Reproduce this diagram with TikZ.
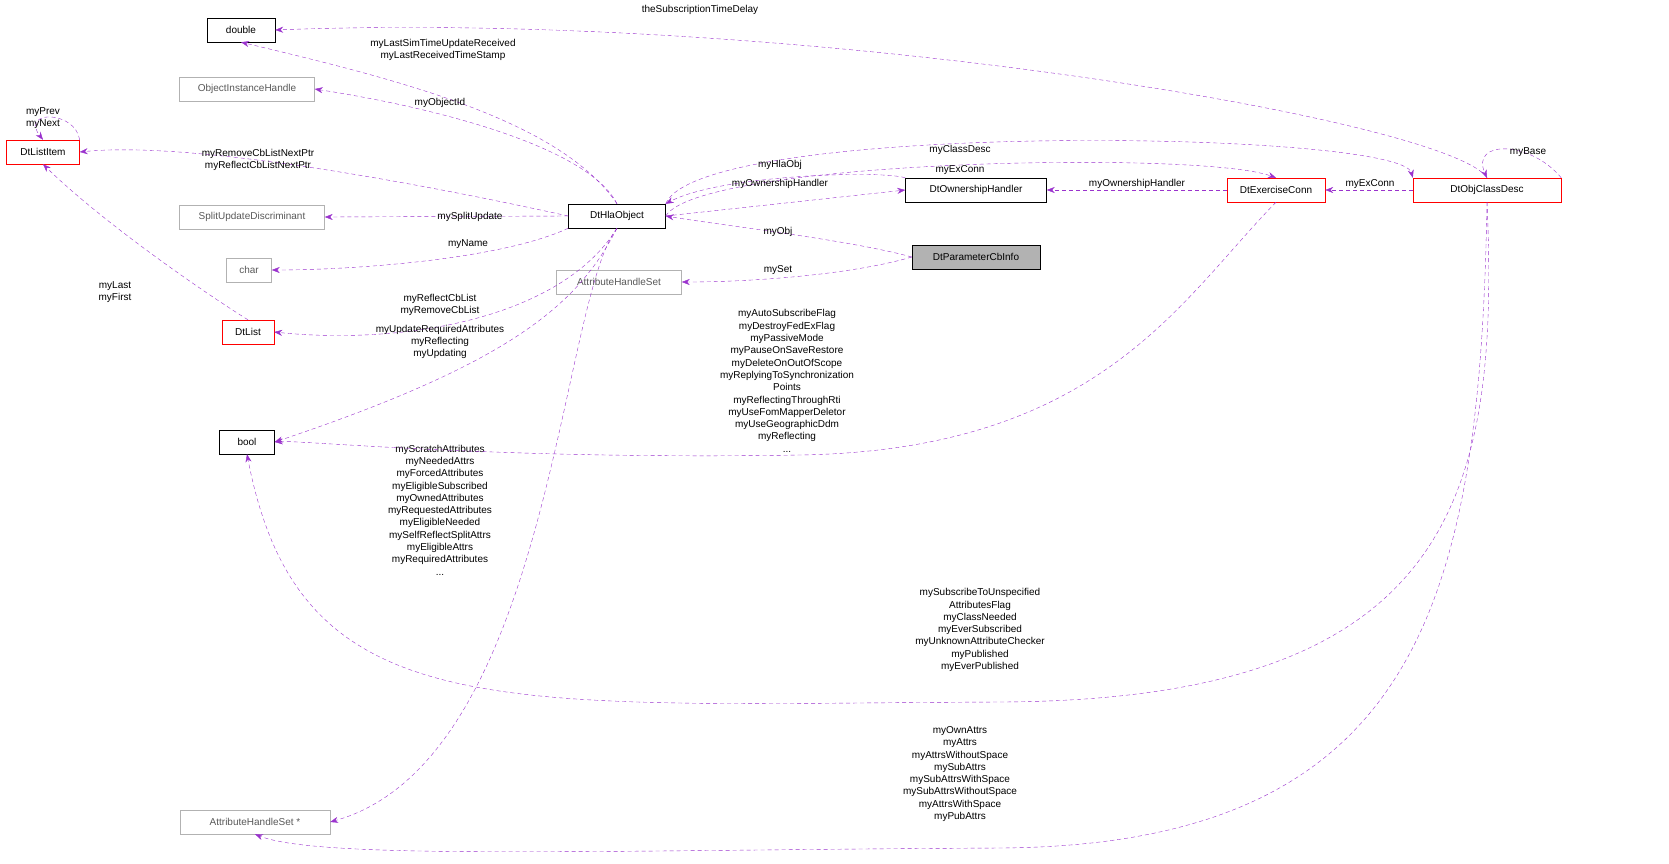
\documentclass[tikz,border=0pt]{standalone}
\usepackage{fontspec}
\setmainfont{Liberation Sans}
\usetikzlibrary{arrows.meta}
\definecolor{ep}{HTML}{9A32CD}
\begin{document}
\begin{tikzpicture}[x=1pt,y=-1pt,font=\fontsize{10}{12.3}\selectfont,
 box/.style={draw,inner sep=0pt,minimum height=24pt,fill=white},
 bk/.style={box,draw=black},
 gr/.style={box,draw=gray!60,text=gray!70!black},
 rd/.style={box,draw=red},
 e/.style={draw=ep,dashed,dash pattern=on 4pt off 3pt,-{Stealth[length=8pt,width=6pt]}},
 lb/.style={align=center,inner sep=0pt}]
\node[bk,minimum width=68pt] (dbl) at (241,30) {double};
\node[gr,minimum width=135pt] (oih) at (247,89) {ObjectInstanceHandle};
\node[rd,minimum width=73pt] (li) at (43,152) {DtListItem};
\node[gr,minimum width=145pt] (sud) at (252,217) {SplitUpdateDiscriminant};
\node[gr,minimum width=45pt] (chr) at (249,270) {char};
\node[rd,minimum width=52pt] (lst) at (248,332) {DtList};
\node[bk,minimum width=55pt] (bool) at (247,442) {bool};
\node[gr,minimum width=150pt] (ahsp) at (255,822) {AttributeHandleSet *};
\node[bk,minimum width=97pt] (hla) at (617,216) {DtHlaObject};
\node[gr,minimum width=125pt] (ahs) at (619,282) {AttributeHandleSet};
\node[box,fill=gray!60,minimum width=128pt] (pci) at (976,257) {DtParameterCbInfo};
\node[bk,minimum width=141pt] (own) at (976,190) {DtOwnershipHandler};
\node[rd,minimum width=98pt] (ex) at (1276,190) {DtExerciseConn};
\node[rd,minimum width=148pt] (ocd) at (1487,190) {DtObjClassDesc};

\draw[e] (ocd.north) .. controls (1450,120) and (800,10) .. (dbl.east);
\node[lb] (l0) at (700,10) {theSubscriptionTimeDelay};
\draw[e] (hla.north) .. controls (560,120) and (400,80) .. (dbl.south);
\node[lb] (l1) at (443,50) {myLastSimTimeUpdateReceived\\myLastReceivedTimeStamp};
\draw[e] (hla.north) .. controls (590,150) and (450,110) .. (oih.east);
\node[lb] (l2) at (440,103) {myObjectId};
\draw[e] (hla.west) .. controls (450,190) and (200,140) .. (li.east);
\node[lb] (l3) at (258,160) {myRemoveCbListNextPtr\\myReflectCbListNextPtr};
\draw[e] (hla.west) -- (sud.east);
\node[lb] (l4) at (470,217) {mySplitUpdate};
\draw[e] (hla.south west) .. controls (500,260) and (350,270) .. (chr.east);
\node[lb] (l5) at (468,244) {myName};
\draw[e] (hla.south) .. controls (560,320) and (400,345) .. (lst.east);
\node[lb] (l6) at (440,305) {myReflectCbList\\myRemoveCbList};
\draw[e] (hla.south) .. controls (580,300) and (520,360) .. (bool.east);
\node[lb] (l7) at (440,342) {myUpdateRequiredAttributes\\myReflecting\\myUpdating};
\draw[e] (hla.south) .. controls (560,300) and (550,760) .. (ahsp.east);
\node[lb] (l8) at (440,510) {myScratchAttributes\\myNeededAttrs\\myForcedAttributes\\myEligibleSubscribed\\myOwnedAttributes\\myRequestedAttributes\\myEligibleNeeded\\mySelfReflectSplitAttrs\\myEligibleAttrs\\myRequiredAttributes\\...};
\draw[e] (li.north east) .. controls (75,110) and (20,110) .. (li.north);
\node[lb] (l9) at (43,118) {myPrev\\myNext};
\draw[e] (lst.north) .. controls (200,290) and (100,220) .. (li.south);
\node[lb] (l10) at (115,292) {myLast\\myFirst};
\draw[e] (hla.north east) .. controls (700,120) and (1400,130) .. (ocd.north west);
\node[lb] (l11) at (960,150) {myClassDesc};
\draw[e] (hla.east) .. controls (700,160) and (1200,150) .. (ex.north);
\node[lb] (l12) at (960,170) {myExConn};
\draw[e] (own.north west) .. controls (880,170) and (720,175) .. (hla.north east);
\node[lb] (l13) at (780,165) {myHlaObj};
\draw[e] (hla.east) -- (own.west);
\node[lb] (l14) at (780,184) {myOwnershipHandler};
\draw[e] (pci.west) .. controls (850,240) and (720,225) .. (hla.east);
\node[lb] (l15) at (778,232) {myObj};
\draw[e] (pci.west) .. controls (850,275) and (750,282) .. (ahs.east);
\node[lb] (l16) at (778,270) {mySet};
\draw[e] (ex.west) -- (own.east);
\node[lb] (l17) at (1137,184) {myOwnershipHandler};
\draw[e] (ocd.west) -- (ex.east);
\node[lb] (l18) at (1370,184) {myExConn};
\draw[e] (ocd.north east) .. controls (1530,140) and (1470,140) .. (ocd.north);
\node[lb] (l19) at (1528,152) {myBase};
\draw[e] (ex.south) .. controls (1180,300) and (1100,450) .. (800,455) .. controls (500,460) and (300,440) .. (bool.east);
\node[lb] (l20) at (787,381) {myAutoSubscribeFlag\\myDestroyFedExFlag\\myPassiveMode\\myPauseOnSaveRestore\\myDeleteOnOutOfScope\\myReplyingToSynchronization\\Points\\myReflectingThroughRti\\myUseFomMapperDeletor\\myUseGeographicDdm\\myReflecting\\...};
\draw[e] (ocd.south) .. controls (1500,500) and (1450,700) .. (1000,702) .. controls (500,704) and (300,730) .. (bool.south);
\node[lb] (l21) at (980,630) {mySubscribeToUnspecified\\AttributesFlag\\myClassNeeded\\myEverSubscribed\\myUnknownAttributeChecker\\myPublished\\myEverPublished};
\draw[e] (ocd.south) .. controls (1480,600) and (1420,845) .. (1000,848) .. controls (600,850) and (320,860) .. (ahsp.south);
\node[lb] (l22) at (960,774) {myOwnAttrs\\myAttrs\\myAttrsWithoutSpace\\mySubAttrs\\mySubAttrsWithSpace\\mySubAttrsWithoutSpace\\myAttrsWithSpace\\myPubAttrs};
\pgfresetboundingbox
\useasboundingbox (0,0) rectangle (1669,863);
\end{tikzpicture}
\end{document}
